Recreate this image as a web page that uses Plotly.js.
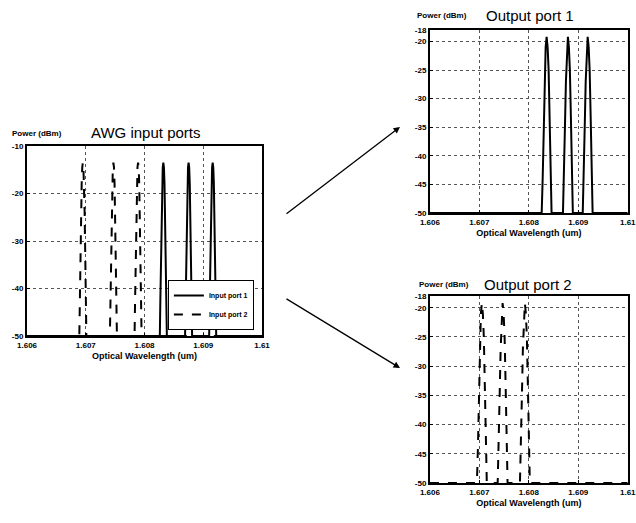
<!DOCTYPE html>
<html><head><meta charset="utf-8">
<script src="https://cdn.plot.ly/plotly-3.0.1.min.js"></script>
<style>html,body{margin:0;padding:0;background:#fff}#chart{width:636px;height:523px}</style>
</head><body><div id="chart"></div>
<script>
// ---- data ----
const wavelengthTicks = [1.606, 1.607, 1.608, 1.609, 1.61];
const wavelengthLabels = ['1.606', '1.607', '1.608', '1.609', '1.61'];
const inputPowerTicks = [-50, -40, -30, -20, -10];
const inputPowerLabels = ['-50', '-40', '-30', '-20', '-10'];
const outputPowerTicks = [-50, -45, -40, -35, -30, -25, -20, -18];
const outputPowerLabels = ['-50', '-45', '-40', '-35', '-30', '-25', '-20', '-18'];

const inputPort1Centers = [1.60832, 1.60875, 1.60916];
const inputPort2Centers = [1.60695, 1.60747, 1.60789];
const inputPeakOffsets = [-0.00006, -0.00005, -0.00004, -0.00003, -0.00002, -0.00001, 0, 0.00001, 0.00002, 0.00003, 0.00004, 0.00005, 0.00006];
const inputPeakPower = [-50, -42, -32, -24, -18, -14.5, -13.5, -14.5, -18, -24, -32, -42, -50];

const output1Centers = [1.60836, 1.60879, 1.60919];
const output2Centers = [1.60705, 1.60747, 1.60792];
const outputPeakOffsets = [-0.0001, -0.00008, -0.00006, -0.00004, -0.00002, 0, 0.00002, 0.00004, 0.00006, 0.00008, 0.0001];
const outputPeakPower = [-50, -44, -35, -27, -21, -19.2, -21, -25, -33, -42, -50];

const floorPower = -50;
const spanStart = 1.606, spanEnd = 1.61;

function spectrum(centers, offsets, power) {
  const x = [spanStart], y = [floorPower];
  centers.forEach(c => {
    offsets.forEach((o, i) => { x.push(c + o); y.push(power[i]); });
  });
  x.push(spanEnd); y.push(floorPower);
  return {x, y};
}

const in1 = spectrum(inputPort1Centers, inputPeakOffsets, inputPeakPower);
const in2 = spectrum(inputPort2Centers, inputPeakOffsets, inputPeakPower);
const out1 = spectrum(output1Centers, outputPeakOffsets, outputPeakPower);
const out2 = spectrum(output2Centers, outputPeakOffsets, outputPeakPower);

const traces = [
  {x: in1.x, y: in1.y, name: 'Input port 1', mode: 'lines', line: {color: '#000', width: 2}, xaxis: 'x', yaxis: 'y', showlegend: true},
  {x: in2.x, y: in2.y, name: 'Input port 2', mode: 'lines', line: {color: '#000', width: 2, dash: 'dash'}, xaxis: 'x', yaxis: 'y', showlegend: true},
  {x: out1.x, y: out1.y, name: 'Output port 1', mode: 'lines', line: {color: '#000', width: 2}, xaxis: 'x2', yaxis: 'y2', showlegend: false},
  {x: out2.x, y: out2.y, name: 'Output port 2', mode: 'lines', line: {color: '#000', width: 2, dash: 'dash'}, xaxis: 'x3', yaxis: 'y3', showlegend: false}
];

const tickFont = {family: 'Liberation Sans, Arial, sans-serif', size: 8, color: '#000', weight: 'bold'};
const axisBase = {
  showline: true, mirror: true, linecolor: '#000', linewidth: 2,
  ticks: 'inside', ticklen: 3, tickcolor: '#000',
  showgrid: true, gridcolor: '#555', griddash: 'dot', gridwidth: 1,
  zeroline: false, tickfont: tickFont, fixedrange: true,
  ticklabeloverflow: 'allow'
};
const titleFont = {family: 'Liberation Sans, Arial, sans-serif', size: 9, color: '#000', weight: 'bold'};

function xAx(domain, anchor) {
  return Object.assign({}, axisBase, {
    domain: domain, anchor: anchor, range: [spanStart, spanEnd],
    tickmode: 'array', tickvals: wavelengthTicks, ticktext: wavelengthLabels,
    title: {text: 'Optical Wavelength (um)', font: titleFont, standoff: 4}
  });
}
function yAx(domain, anchor, range, vals, labels) {
  return Object.assign({}, axisBase, {
    domain: domain, anchor: anchor, range: range,
    tickmode: 'array', tickvals: vals, ticktext: labels
  });
}

const bigFont = {family: 'Liberation Sans, Arial, sans-serif', size: 15, color: '#000'};
const smallFont = {family: 'Liberation Sans, Arial, sans-serif', size: 8, color: '#000', weight: 'bold'};

const layout = {
  width: 636, height: 523,
  margin: {l: 0, r: 0, t: 0, b: 0},
  paper_bgcolor: '#fff', plot_bgcolor: '#fff',
  xaxis: xAx([0.0425, 0.412], 'y'),
  yaxis: yAx([0.3576, 0.7208], 'x', [-50, -10], inputPowerTicks, inputPowerLabels),
  xaxis2: xAx([0.676, 0.987], 'y2'),
  yaxis2: yAx([0.5927, 0.9426], 'x2', [-50, -18], outputPowerTicks, outputPowerLabels),
  xaxis3: xAx([0.676, 0.987], 'y3'),
  yaxis3: yAx([0.0765, 0.434], 'x3', [-50, -18], outputPowerTicks, outputPowerLabels),
  showlegend: true,
  legend: {
    x: 0.264, y: (523 - 330) / 523, xanchor: 'left', yanchor: 'bottom',
    bgcolor: '#fff', bordercolor: '#000', borderwidth: 1,
    font: {family: 'Liberation Sans, Arial, sans-serif', size: 7, color: '#000', weight: 'bold'},
    tracegroupgap: 0, itemwidth: 30
  },
  annotations: [
    {text: 'AWG input ports', xref: 'paper', yref: 'paper', x: 145/636, y: 1 - 132/523, showarrow: false, font: bigFont, xanchor: 'center', yanchor: 'middle'},
    {text: 'Power (dBm)', xref: 'paper', yref: 'paper', x: 10/636, y: 1 - 134/523, showarrow: false, font: smallFont, xanchor: 'left', yanchor: 'middle'},
    {text: 'Output port 1', xref: 'paper', yref: 'paper', x: 530/636, y: 1 - 16/523, showarrow: false, font: bigFont, xanchor: 'center', yanchor: 'middle'},
    {text: 'Power (dBm)', xref: 'paper', yref: 'paper', x: 415/636, y: 1 - 16/523, showarrow: false, font: smallFont, xanchor: 'left', yanchor: 'middle'},
    {text: 'Output port 2', xref: 'paper', yref: 'paper', x: 528/636, y: 1 - 284/523, showarrow: false, font: bigFont, xanchor: 'center', yanchor: 'middle'},
    {text: 'Power (dBm)', xref: 'paper', yref: 'paper', x: 417/636, y: 1 - 284/523, showarrow: false, font: smallFont, xanchor: 'left', yanchor: 'middle'},
    {text: '', xref: 'paper', yref: 'paper', x: 400/636, y: 1 - 127/523, axref: 'pixel', ayref: 'pixel', ax: -115, ay: 88, showarrow: true, arrowhead: 2, arrowsize: 1, arrowwidth: 1.3, arrowcolor: '#000'},
    {text: '', xref: 'paper', yref: 'paper', x: 400/636, y: 1 - 368/523, axref: 'pixel', ayref: 'pixel', ax: -115, ay: -70, showarrow: true, arrowhead: 2, arrowsize: 1, arrowwidth: 1.3, arrowcolor: '#000'}
  ]
};

Plotly.newPlot('chart', traces, layout, {staticPlot: true, displayModeBar: false});
</script>
</body></html>
